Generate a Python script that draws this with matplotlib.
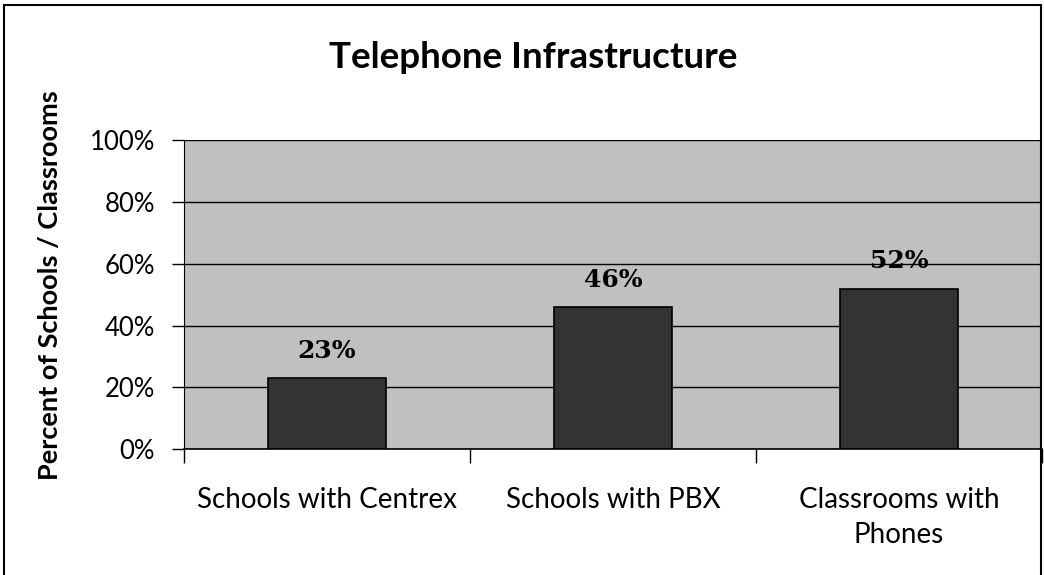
import matplotlib.pyplot as plt
from matplotlib.patches import Rectangle
from matplotlib.ticker import FixedLocator

# data
categories = ["Schools with Centrex", "Schools with PBX", "Classrooms with\nPhones"]
values = [23, 46, 52]
yticks = [0, 20, 40, 60, 80, 100]
ytick_labels = ["0%", "20%", "40%", "60%", "80%", "100%"]

fig = plt.figure(figsize=(10.44, 5.75), dpi=100)
ax = fig.add_axes([0.1762, 0.219, 0.822, 0.537])
ax.set_facecolor("#c0c0c0")

x = range(len(categories))
ax.bar(x, values, width=0.41, color="#333333", edgecolor="black", linewidth=1.2, zorder=3)

for xi, v in zip(x, values):
    ax.text(xi, v + 8.8, f"{v}%", ha="center", va="center",
            fontsize=18, fontweight="bold", family="DejaVu Serif", zorder=4)

ax.set_ylim(0, 100)
ax.set_xlim(-0.5, 2.5)
ax.set_yticks(yticks)
ax.set_yticklabels(ytick_labels, fontsize=18.5, family="Lato")
ax.set_xticks(list(x))
ax.set_xticklabels(categories, fontsize=20, family="Lato", linespacing=1.45)
ax.xaxis.set_minor_locator(FixedLocator([-0.5, 0.5, 1.5, 2.5]))
ax.tick_params(axis="x", which="major", length=0, pad=27)
ax.tick_params(axis="x", which="minor", length=10, width=1, color="black")
ax.tick_params(axis="y", length=9, width=1, color="black", pad=12)
ax.yaxis.grid(True, color="black", linewidth=1)
ax.set_axisbelow(True)

for s in ["top", "right"]:
    ax.spines[s].set_visible(False)
ax.spines["left"].set_color("black")
ax.spines["bottom"].set_color("black")
ax.spines["bottom"].set_linewidth(1.2)

fig.text(0.048, 0.505, "Percent of Schools / Classrooms", rotation=90, ha="center", va="center",
         fontsize=19.5, fontweight="bold", family="Lato")
fig.text(0.511, 0.9, "Telephone Infrastructure", ha="center", va="center",
         fontsize=26.5, fontweight="bold", family="Lato")

# outer border
fig.patches.append(Rectangle((4 / 1044, -0.05), 1037 / 1044, 1 - 5 / 575 + 0.05,
                             transform=fig.transFigure, fill=False, edgecolor="black", linewidth=1.5))

fig.savefig("out.png", dpi=100)
